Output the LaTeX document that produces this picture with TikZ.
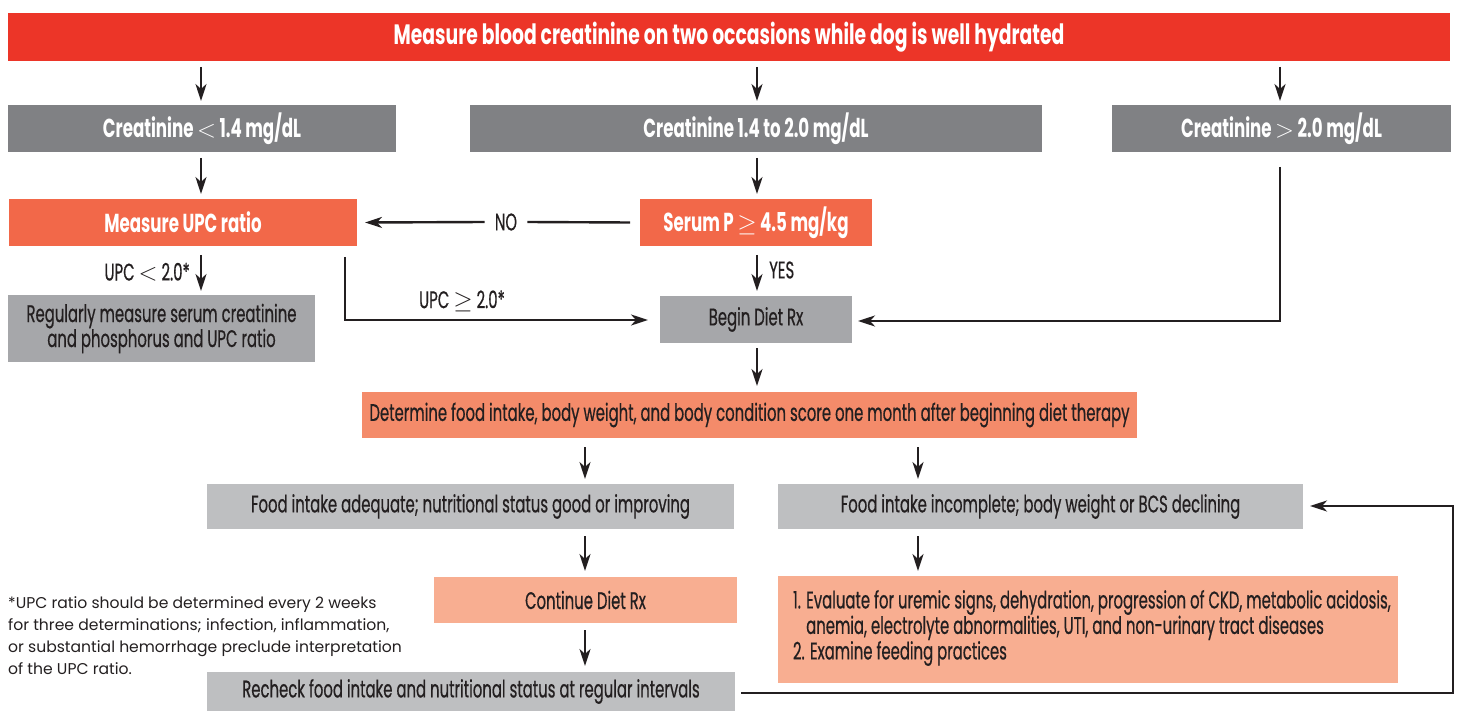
\documentclass[tikz,border=0pt]{standalone}
\usepackage{fontspec}
\setmainfont{Poppins}
\newfontfamily\cond{Poppins}[FakeStretch=0.62, FakeBold=0.5]
\newfontfamily\condw{Poppins}[FakeStretch=0.64]
\newfontfamily\condh{Poppins}[FakeStretch=0.67]
\newfontfamily\foot{Poppins}
\usetikzlibrary{arrows.meta}
\definecolor{cRed}{HTML}{EC3528}
\definecolor{cOrange}{HTML}{F26849}
\definecolor{cDark}{HTML}{808184}
\definecolor{cMid}{HTML}{A6A7AA}
\definecolor{cLight}{HTML}{BEBFC1}
\definecolor{cSalmon}{HTML}{F48B6A}
\definecolor{cPale}{HTML}{F8AE91}
\definecolor{cInk}{HTML}{231F20}
\tikzset{
  box/.style={inner sep=0pt, outer sep=0pt, align=center},
  wbox/.style={box, text=white, font=\condw\bfseries\fontsize{26}{30}\selectfont},
  dbox/.style={box, text=cInk, font=\cond\fontsize{24}{25}\selectfont},
  lbl/.style={text=cInk, font=\cond\fontsize{24}{26}\selectfont, inner sep=2pt},
  arr/.style={draw=cInk, line width=2.4pt, -{Stealth[length=17pt,width=11pt,inset=5pt]}},
  ln/.style={draw=cInk, line width=2.4pt},
}
\begin{document}
\begin{tikzpicture}[x=1pt,y=-1pt]
\useasboundingbox (0,0) rectangle (1461,711);
% boxes
\node[wbox, fill=cRed, minimum width=1442pt, minimum height=48pt, font=\condh\bfseries\fontsize{28}{30}\selectfont] (top) at (729,37) {Measure blood creatinine on two occasions while dog is well hydrated};
\node[wbox, fill=cDark, minimum width=388pt, minimum height=47pt] (c1) at (202,128.5) {Creatinine $<$ 1.4 mg/dL};
\node[wbox, fill=cDark, minimum width=572pt, minimum height=47pt] (c2) at (756,128.5) {Creatinine 1.4 to 2.0 mg/dL};
\node[wbox, fill=cDark, minimum width=339pt, minimum height=47pt] (c3) at (1281.5,128.5) {Creatinine $>$ 2.0 mg/dL};
\node[wbox, fill=cOrange, minimum width=348pt, minimum height=47pt] (upc) at (183,222.5) {Measure UPC ratio};
\node[wbox, fill=cOrange, minimum width=232pt, minimum height=47pt] (serum) at (756,222.5) {Serum P $\geq$ 4.5 mg/kg};
\node[dbox, fill=cMid, minimum width=192pt, minimum height=47pt] (begin) at (756,319.5) {Begin Diet Rx};
\node[dbox, fill=cMid, minimum width=307pt, minimum height=67pt] (reg) at (161.5,328.5) {Regularly measure serum creatinine\\and phosphorus and UPC ratio};
\node[dbox, fill=cSalmon, minimum width=775pt, minimum height=46pt] (det) at (749.5,415) {Determine food intake, body weight, and body condition score one month after beginning diet therapy};
\node[dbox, fill=cLight, minimum width=527pt, minimum height=45pt] (fa) at (470.5,506.5) {Food intake adequate; nutritional status good or improving};
\node[dbox, fill=cLight, minimum width=525pt, minimum height=45pt] (fi) at (1040.5,506.5) {Food intake incomplete; body weight or BCS declining};
\node[dbox, fill=cPale, minimum width=303pt, minimum height=46pt] (cont) at (585.5,600) {Continue Diet Rx};
\node[dbox, fill=cPale, minimum width=620pt, minimum height=107pt] (eval) at (1088,629.5) {};
\node[dbox, anchor=west, align=left, font=\cond\fontsize{24}{25.5}\selectfont] (evaltext) at (793,628) {1. Evaluate for uremic signs, dehydration, progression of CKD, metabolic acidosis,\\\hphantom{1. }anemia, electrolyte abnormalities, UTI, and non-urinary tract diseases\\2. Examine feeding practices};
\node[dbox, fill=cLight, minimum width=528pt, minimum height=39pt] (rec) at (471,691.5) {Recheck food intake and nutritional status at regular intervals};
\node[anchor=north west, align=left, inner sep=0pt, text=cInk, font=\foot\fontsize{15.6}{22}\selectfont] (note) at (8,596) {*UPC ratio should be determined every 2 weeks\\for three determinations; infection, inflammation,\\or substantial hemorrhage preclude interpretation\\of the UPC ratio.};
% connectors
\coordinate (t1) at (201,67);
\coordinate (t2) at (757,67);
\coordinate (t3) at (1280,67);
\draw[arr] (t1) -- (201,101);
\draw[arr] (t2) -- (757,101);
\draw[arr] (t3) -- (1280,101);
\draw[arr] (201,158) -- (201,194);
\draw[arr] (757,158) -- (757,194);
% NO
\node[lbl] (no) at (506,222) {NO};
\draw[ln] ([xshift=-10pt]serum.west) -- ([xshift=8pt]no.east);
\draw[arr] ([xshift=-8pt]no.west) -- ([xshift=8pt]upc.east);
% YES
\draw[arr] (757,255) -- (757,291);
\node[lbl, anchor=west] (yes) at (767,270) {YES};
% UPC < 2.0
\draw[arr] (201,255) -- (201,291);
\node[lbl, anchor=east] (lt) at (192,272) {UPC $<$ 2.0*};
% UPC >= 2.0
\coordinate (u1) at (345,257);
\coordinate (u2) at (345,320);
\draw[arr] (u1) -- (u2) -- ([xshift=-12pt]begin.west |- u2);
\node[lbl] (ge) at (462,301) {UPC $\geq$ 2.0*};
% creatinine > 2.0
\coordinate (r1) at (1280,167);
\coordinate (r2) at (1280,321);
\draw[arr] (r1) -- (r2) -- ([xshift=6pt]begin.east |- r2);
% begin -> det
\draw[arr] (757,348) -- (757,386);
\draw[arr] (585,447) -- (585,479);
\draw[arr] (918,447) -- (918,479);
\draw[arr] (585,536) -- (585,571);
\draw[arr] (918,536) -- (918,571);
\draw[arr] (585,630) -- (585,666);
% feedback loop
\coordinate (f1) at (1453,693);
\coordinate (f2) at (1453,506);
\draw[arr] ([xshift=6pt]rec.east |- f1) -- (f1) -- (f2) -- ([xshift=7pt]fi.east |- f2);
\end{tikzpicture}
\end{document}
